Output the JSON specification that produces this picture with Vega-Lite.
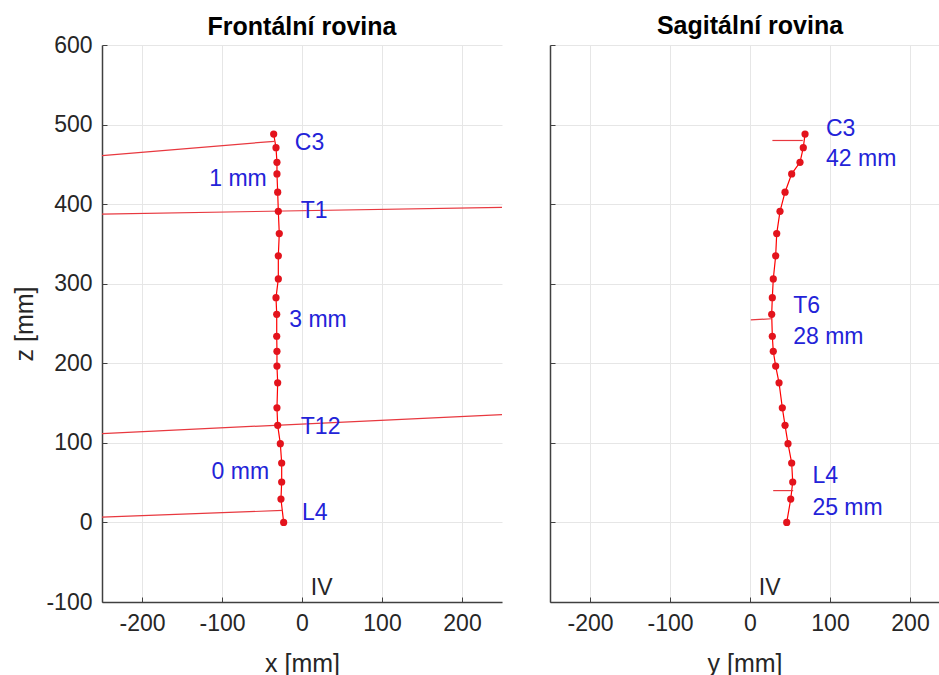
{
  "$schema": "https://vega.github.io/schema/vega-lite/v6.json",
  "background": "white",
  "padding": {"left": 12, "right": 0, "top": 13, "bottom": 0},
  "spacing": 46,
  "config": {
    "font": "Liberation Sans",
    "view": {"stroke": null},
    "axis": {
      "labelFont": "Liberation Sans", "labelFontSize": 23, "labelColor": "#262626",
      "titleFont": "Liberation Sans", "titleFontSize": 25, "titleFontWeight": "normal", "titleColor": "#262626",
      "domainColor": "#404040", "domainWidth": 1.5, "tickColor": "#404040", "tickSize": -5,
      "gridColor": "#e6e6e6", "gridWidth": 1, "labelPadding": 15, "titlePadding": 8,
      "labelExpr": "'' + datum.value"
    },
    "axisX": {"titlePadding": 16},
    "title": {"font": "Liberation Sans", "fontSize": 25, "fontWeight": "bold", "color": "#000000", "frame": "group"}
  },
  "datasets": {
    "frontal": [
      {"x": -35.4, "z": 488}, {"x": -32.5, "z": 471}, {"x": -31.3, "z": 452.5}, {"x": -31.3, "z": 438},
      {"x": -30.4, "z": 415}, {"x": -29.6, "z": 391}, {"x": -28.4, "z": 363}, {"x": -29.6, "z": 335},
      {"x": -29.6, "z": 306}, {"x": -32.5, "z": 282.5}, {"x": -31.6, "z": 261.6}, {"x": -31.6, "z": 234},
      {"x": -31.3, "z": 215}, {"x": -31.3, "z": 196.5}, {"x": -30.4, "z": 175.5}, {"x": -31.3, "z": 144},
      {"x": -30.4, "z": 122}, {"x": -27.1, "z": 99}, {"x": -25.4, "z": 74.7}, {"x": -25.4, "z": 50.8},
      {"x": -26.3, "z": 29.3}, {"x": -22.9, "z": 0}
    ],
    "sagittal": [
      {"y": 68.8, "z": 488}, {"y": 66.6, "z": 471}, {"y": 62.5, "z": 452.5}, {"y": 52.1, "z": 438},
      {"y": 43.8, "z": 415}, {"y": 37.5, "z": 391}, {"y": 33.4, "z": 363}, {"y": 32.1, "z": 335},
      {"y": 29.1, "z": 306}, {"y": 27.9, "z": 282.5}, {"y": 27.1, "z": 261.6}, {"y": 27.9, "z": 234},
      {"y": 29.1, "z": 215}, {"y": 32.1, "z": 196.5}, {"y": 36.3, "z": 175.5}, {"y": 40.4, "z": 144},
      {"y": 43.8, "z": 122}, {"y": 47.5, "z": 99}, {"y": 52.1, "z": 74.7}, {"y": 53.4, "z": 50.8},
      {"y": 50.9, "z": 29.3}, {"y": 45.9, "z": 0}
    ],
    "frontalSegments": [
      {"x": -250, "z": 461, "x2": -34.6, "z2": 479},
      {"x": -250, "z": 387.5, "x2": 250, "z2": 396},
      {"x": -250, "z": 111.7, "x2": 250, "z2": 135.6},
      {"x": -250, "z": 6.7, "x2": -24.1, "z2": 15.1}
    ],
    "sagittalSegments": [
      {"y": 28, "z": 480, "y2": 66, "z2": 480},
      {"y": 1, "z": 254.5, "y2": 27, "z2": 256},
      {"y": 29, "z": 40, "y2": 54, "z2": 40}
    ],
    "frontalLabels": [
      {"x": -9, "z": 477, "label": "C3"},
      {"x": -116, "z": 432, "label": "1 mm"},
      {"x": -1.5, "z": 391, "label": "T1"},
      {"x": -16, "z": 255, "label": "3 mm"},
      {"x": -1.5, "z": 120, "label": "T12"},
      {"x": -113, "z": 64, "label": "0 mm"},
      {"x": 0, "z": 12, "label": "L4"}
    ],
    "sagittalLabels": [
      {"y": 95, "z": 494.6, "label": "C3"},
      {"y": 95, "z": 456.7, "label": "42 mm"},
      {"y": 54, "z": 272, "label": "T6"},
      {"y": 54, "z": 233, "label": "28 mm"},
      {"y": 78, "z": 58, "label": "L4"},
      {"y": 78, "z": 18, "label": "25 mm"}
    ],
    "ivFrontal": [{"x": 11, "z": -83, "label": "IV"}],
    "ivSagittal": [{"y": 11, "z": -83, "label": "IV"}]
  },
  "hconcat": [
    {
      "width": 400,
      "height": 557,
      "title": {"text": "Frontální rovina", "frame": "group", "offset": -6},
      "layer": [
        {
          "data": {"name": "frontal"},
          "mark": {"type": "line", "color": "#ff0000", "strokeWidth": 1.2},
          "encoding": {
            "x": {"field": "x", "type": "quantitative", "scale": {"domain": [-250, 250], "nice": false},
                  "axis": {"values": [-200, -100, 0, 100, 200], "title": "x [mm]", "grid": true}},
            "y": {"field": "z", "type": "quantitative", "scale": {"domain": [-100, 600], "nice": false},
                  "axis": {"values": [-100, 0, 100, 200, 300, 400, 500, 600], "title": "z [mm]", "grid": true}},
            "order": {"field": "z", "type": "quantitative"}
          }
        },
        {
          "mark": {"type": "rule", "color": "#262626", "strokeWidth": 1.3},
          "encoding": {"x": {"datum": 0}}
        },
        {
          "data": {"name": "frontalSegments"},
          "mark": {"type": "rule", "color": "#e8383f", "strokeWidth": 1.2},
          "encoding": {
            "x": {"field": "x", "type": "quantitative"},
            "y": {"field": "z", "type": "quantitative"},
            "x2": {"field": "x2"},
            "y2": {"field": "z2"}
          }
        },
        {
          "data": {"name": "frontal"},
          "mark": {"type": "circle", "color": "#e3131c", "size": 52, "opacity": 1},
          "encoding": {
            "x": {"field": "x", "type": "quantitative"},
            "y": {"field": "z", "type": "quantitative"}
          }
        },
        {
          "data": {"name": "frontalLabels"},
          "mark": {"type": "text", "align": "left", "baseline": "middle", "fontSize": 23, "color": "#2323d8", "font": "Liberation Sans"},
          "encoding": {
            "x": {"field": "x", "type": "quantitative"},
            "y": {"field": "z", "type": "quantitative"},
            "text": {"field": "label"}
          }
        },
        {
          "data": {"name": "ivFrontal"},
          "mark": {"type": "text", "align": "left", "baseline": "middle", "fontSize": 23, "color": "#262626", "font": "Liberation Sans"},
          "encoding": {
            "x": {"field": "x", "type": "quantitative"},
            "y": {"field": "z", "type": "quantitative"},
            "text": {"field": "label"}
          }
        }
      ]
    },
    {
      "width": 389,
      "height": 557,
      "title": {"text": "Sagitální rovina", "dx": 5.5, "frame": "group", "offset": 6},
      "layer": [
        {
          "data": {"name": "sagittal"},
          "mark": {"type": "line", "color": "#ff0000", "strokeWidth": 1.2},
          "encoding": {
            "x": {"field": "y", "type": "quantitative", "scale": {"domain": [-250, 236.25], "nice": false},
                  "axis": {"values": [-200, -100, 0, 100, 200], "title": "y [mm]", "grid": true}},
            "y": {"field": "z", "type": "quantitative", "scale": {"domain": [-100, 600], "nice": false},
                  "axis": {"values": [-100, 0, 100, 200, 300, 400, 500, 600], "title": null, "labels": false, "grid": true}},
            "order": {"field": "z", "type": "quantitative"}
          }
        },
        {
          "mark": {"type": "rule", "color": "#262626", "strokeWidth": 1.3},
          "encoding": {"x": {"datum": 0}}
        },
        {
          "data": {"name": "sagittalSegments"},
          "mark": {"type": "rule", "color": "#e8383f", "strokeWidth": 1.2},
          "encoding": {
            "x": {"field": "y", "type": "quantitative"},
            "y": {"field": "z", "type": "quantitative"},
            "x2": {"field": "y2"},
            "y2": {"field": "z2"}
          }
        },
        {
          "data": {"name": "sagittal"},
          "mark": {"type": "circle", "color": "#e3131c", "size": 52, "opacity": 1},
          "encoding": {
            "x": {"field": "y", "type": "quantitative"},
            "y": {"field": "z", "type": "quantitative"}
          }
        },
        {
          "data": {"name": "sagittalLabels"},
          "mark": {"type": "text", "align": "left", "baseline": "middle", "fontSize": 23, "color": "#2323d8", "font": "Liberation Sans"},
          "encoding": {
            "x": {"field": "y", "type": "quantitative"},
            "y": {"field": "z", "type": "quantitative"},
            "text": {"field": "label"}
          }
        },
        {
          "data": {"name": "ivSagittal"},
          "mark": {"type": "text", "align": "left", "baseline": "middle", "fontSize": 23, "color": "#262626", "font": "Liberation Sans"},
          "encoding": {
            "x": {"field": "y", "type": "quantitative"},
            "y": {"field": "z", "type": "quantitative"},
            "text": {"field": "label"}
          }
        }
      ]
    }
  ]
}
